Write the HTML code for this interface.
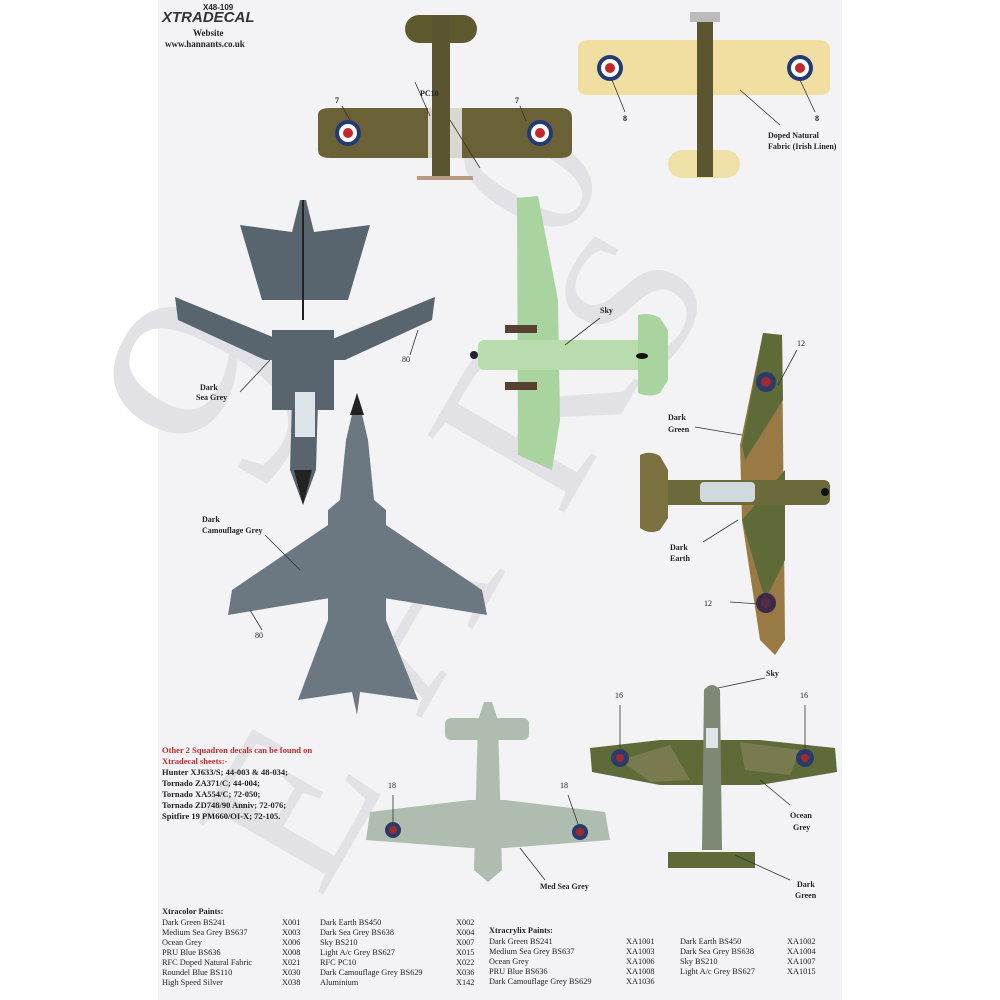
<!DOCTYPE html>
<html><head><meta charset="utf-8"><style>
html,body{margin:0;padding:0;background:#fff;}
svg{display:block}
text{font-family:"Liberation Serif",serif;font-weight:bold;fill:#222;}
</style></head><body>
<svg width="1000" height="1000" viewBox="0 0 1000 1000" xmlns="http://www.w3.org/2000/svg">
<rect x="0" y="0" width="1000" height="1000" fill="#fff"/>
<rect x="158" y="0" width="684" height="1000" fill="#f3f3f6"/>

<!-- watermark -->
<g>
<text x="560" y="250" font-size="200" transform="rotate(-60 560 250)" style="fill:#e2e2e6;font-weight:normal">0</text>
<text x="260" y="500" font-size="300" transform="rotate(-60 260 500)" style="fill:#e2e2e6;font-weight:normal">9</text>
<text x="560" y="520" font-size="240" transform="rotate(-60 560 520)" style="fill:#e2e2e6;font-weight:normal">R</text>
<text x="420" y="720" font-size="240" transform="rotate(-60 420 720)" style="fill:#e2e2e6;font-weight:normal">A</text>
<text x="320" y="900" font-size="220" transform="rotate(-60 320 900)" style="fill:#e2e2e6;font-weight:normal">E</text>
<text x="660" y="380" font-size="200" transform="rotate(-60 660 380)" style="fill:#e2e2e6;font-weight:normal">S</text>
</g>

<!-- logo -->
<text x="203" y="10" font-size="8" style="font-family:'Liberation Sans',sans-serif">X48-109</text>
<text x="162" y="22" font-size="15" style="font-family:'Liberation Sans',sans-serif;font-style:italic;fill:#333">XTRADECAL</text>
<text x="193" y="36" font-size="9">Website</text>
<text x="165" y="47" font-size="9">www.hannants.co.uk</text>

<!-- top biplane PC10 -->
<g>
<rect x="405" y="15" width="72" height="28" rx="14" fill="#5f5a2e"/>
<rect x="432" y="15" width="18" height="165" fill="#5a5530"/>
<path d="M318,115 Q318,108 330,108 L560,108 Q572,108 572,118 L572,150 Q572,158 560,158 L330,158 Q318,158 318,150Z" fill="#6a6236"/>
<rect x="428" y="108" width="34" height="50" fill="#d8d8d0"/>
<rect x="432" y="95" width="18" height="85" fill="#5a5530"/>
<rect x="417" y="176" width="56" height="4" fill="#b89a80"/>
<circle cx="348" cy="133" r="13" fill="#243a78"/><circle cx="348" cy="133" r="9" fill="#fff"/><circle cx="348" cy="133" r="5" fill="#c0282c"/>
<circle cx="540" cy="133" r="13" fill="#243a78"/><circle cx="540" cy="133" r="9" fill="#fff"/><circle cx="540" cy="133" r="5" fill="#c0282c"/>
<path d="M350,120 L342,106 M526,121 L520,106 M430,116 L415,82 M450,120 L480,168" stroke="#333" stroke-width="0.8"/>
<text x="335" y="103" font-size="8">7</text><text x="515" y="103" font-size="8">7</text>
<text x="420" y="96" font-size="8">PC10</text>
</g>

<!-- top-right biplane linen -->
<g>
<rect x="668" y="150" width="72" height="28" rx="14" fill="#efe0a8"/>
<path d="M578,48 Q578,40 590,40 L818,40 Q830,40 830,50 L830,88 Q830,95 818,95 L590,95 Q578,95 578,88Z" fill="#f0dfa0"/>
<rect x="697" y="12" width="16" height="165" fill="#5b5530"/>
<rect x="690" y="12" width="30" height="10" fill="#bbb"/>
<circle cx="610" cy="68" r="13" fill="#243a78"/><circle cx="610" cy="68" r="9" fill="#fff"/><circle cx="610" cy="68" r="5" fill="#c0282c"/>
<circle cx="800" cy="68" r="13" fill="#243a78"/><circle cx="800" cy="68" r="9" fill="#fff"/><circle cx="800" cy="68" r="5" fill="#c0282c"/>
<path d="M612,80 L625,112 M800,80 L815,112 M740,90 L780,125" stroke="#333" stroke-width="0.8"/>
<text x="623" y="121" font-size="8">8</text><text x="815" y="121" font-size="8">8</text>
<text x="768" y="138" font-size="8">Doped Natural</text>
<text x="768" y="149" font-size="8">Fabric (Irish Linen)</text>
</g>

<!-- Jaguar top-left -->
<g fill="#58646e">
<polygon points="240,225 292,232 300,200 306,200 314,232 370,225 348,300 262,300"/>
<polygon points="175,297 280,340 330,340 435,297 432,320 345,360 265,360 178,320"/>
<rect x="272" y="330" width="62" height="80"/>
<path d="M292,400 L318,400 L316,470 L303,505 L290,470Z"/>
<rect x="295" y="392" width="20" height="45" fill="#dde4ea"/>
<path d="M294,470 L303,505 L312,470Z" fill="#222"/>
<line x1="303" y1="200" x2="303" y2="320" stroke="#222" stroke-width="2"/>
</g>
<path d="M270,360 L240,392 M418,330 L410,355" stroke="#333" stroke-width="0.8"/>
<text x="402" y="362" font-size="8" style="font-weight:normal">80</text>
<text x="200" y="390" font-size="8">Dark</text><text x="196" y="400" font-size="8">Sea Grey</text>

<!-- Tornado -->
<g fill="#6b7882">
<path d="M357,393 L368,440 L374,500 L386,510 L386,620 L418,700 L360,692 L357,715 L352,692 L298,700 L328,620 L328,510 L340,500 L346,440Z"/>
<polygon points="328,525 232,590 228,615 330,598"/>
<polygon points="386,525 482,590 487,615 384,598"/>
<path d="M350,415 L357,393 L364,415Z" fill="#222"/>
</g>
<path d="M265,535 L300,570 M250,610 L262,630" stroke="#333" stroke-width="0.8"/>
<text x="202" y="522" font-size="8">Dark</text><text x="202" y="533" font-size="8">Camouflage Grey</text>
<text x="255" y="638" font-size="8" style="font-weight:normal">80</text>

<!-- Sky Anson -->
<g>
<path d="M517,198 L538,196 L558,300 L560,420 L552,470 L518,455Z" fill="#a9d39f"/>
<rect x="478" y="340" width="190" height="30" rx="6" fill="#b9dcae"/>
<path d="M638,315 Q650,312 660,318 L668,330 L668,380 L660,393 Q650,398 638,393Z" fill="#a9d39f"/>
<rect x="505" y="325" width="32" height="8" fill="#5a4030"/>
<rect x="505" y="382" width="32" height="8" fill="#5a4030"/>
<circle cx="474" cy="355" r="4" fill="#223"/>
<ellipse cx="642" cy="356" rx="6" ry="3" fill="#111"/>
</g>
<line x1="565" y1="345" x2="600" y2="318" stroke="#333" stroke-width="0.8"/>
<text x="600" y="313" font-size="8">Sky</text>

<!-- Camo Anson -->
<g>
<path d="M763,333 L782,335 L785,640 L775,655 L760,640 L742,520 L740,445Z" fill="#9a7a44"/>
<path d="M763,333 L782,335 L783,400 L745,460 L742,445Z" fill="#5e6a38"/>
<path d="M742,520 L785,470 L785,560 L765,600Z" fill="#5e6a38"/>
<rect x="645" y="480" width="185" height="25" rx="6" fill="#6a6a3a"/>
<path d="M640,455 Q650,450 660,456 L668,470 L668,518 L660,530 Q650,535 640,528Z" fill="#7a7040"/>
<rect x="700" y="482" width="55" height="20" rx="4" fill="#cfd9de"/>
<circle cx="766" cy="382" r="10" fill="#2a3b6a"/><circle cx="766" cy="382" r="5" fill="#a02a30"/>
<circle cx="766" cy="603" r="10" fill="#3a2a4a"/><circle cx="766" cy="603" r="5" fill="#5a2a40"/>
<circle cx="825" cy="492" r="4" fill="#111"/>
</g>
<path d="M778,385 L797,350 M695,427 L742,435 M703,542 L738,520 M730,602 L760,604" stroke="#333" stroke-width="0.8"/>
<text x="797" y="346" font-size="8" style="font-weight:normal">12</text>
<text x="668" y="420" font-size="8">Dark</text><text x="668" y="432" font-size="8">Green</text>
<text x="670" y="550" font-size="8">Dark</text><text x="670" y="561" font-size="8">Earth</text>
<text x="704" y="606" font-size="8" style="font-weight:normal">12</text>

<!-- light grey aircraft -->
<g fill="#aebdb0">
<rect x="445" y="718" width="84" height="22" rx="6"/>
<path d="M478,720 L484,702 L492,702 L498,720 L502,870 L488,882 L474,870Z"/>
<path d="M370,812 L470,800 L505,800 L605,812 L610,840 L505,848 L470,848 L366,840Z"/>
<circle cx="393" cy="830" r="8" fill="#2a3b6a"/><circle cx="393" cy="830" r="4" fill="#a02a30"/>
<circle cx="580" cy="832" r="8" fill="#2a3b6a"/><circle cx="580" cy="832" r="4" fill="#a02a30"/>
</g>
<path d="M393,822 L393,795 M578,824 L568,795 M520,848 L545,880" stroke="#333" stroke-width="0.8"/>
<text x="388" y="788" font-size="8" style="font-weight:normal">18</text>
<text x="560" y="788" font-size="8" style="font-weight:normal">18</text>
<text x="540" y="889" font-size="8">Med Sea Grey</text>

<!-- Spitfire -->
<g>
<path d="M590,748 L660,740 L760,740 L835,748 L837,772 L760,785 L660,785 L592,772Z" fill="#5e6a38"/>
<path d="M620,760 L670,745 L690,780 L650,782Z M740,742 L800,750 L790,775 L745,770Z" fill="#7a7a50"/>
<path d="M704,690 Q712,680 720,690 L722,850 L702,850Z" fill="#7d8875"/>
<path d="M668,852 L755,852 L755,868 L668,868Z" fill="#5e6a38"/>
<circle cx="620" cy="758" r="9" fill="#2a3b6a"/><circle cx="620" cy="758" r="4" fill="#a02a30"/>
<circle cx="805" cy="758" r="9" fill="#2a3b6a"/><circle cx="805" cy="758" r="4" fill="#a02a30"/>
<rect x="706" y="728" width="12" height="20" fill="#dde3e6"/>
</g>
<path d="M620,748 L620,705 M805,748 L805,705 M718,688 L765,678 M760,780 L790,805 M735,855 L790,880" stroke="#333" stroke-width="0.8"/>
<text x="615" y="698" font-size="8" style="font-weight:normal">16</text>
<text x="800" y="698" font-size="8" style="font-weight:normal">16</text>
<text x="766" y="676" font-size="8">Sky</text>
<text x="790" y="818" font-size="8">Ocean</text><text x="793" y="830" font-size="8">Grey</text>
<text x="797" y="887" font-size="8">Dark</text><text x="795" y="898" font-size="8">Green</text>

<!-- red text block -->
<g font-size="8.5">
<text x="162" y="753" style="fill:#c0282c">Other 2 Squadron decals can be found on</text>
<text x="162" y="764" style="fill:#c0282c">Xtradecal sheets:-</text>
<text x="162" y="775">Hunter XJ633/S; 44-003 &amp; 48-034;</text>
<text x="162" y="786">Tornado ZA371/C; 44-004;</text>
<text x="162" y="797">Tornado XA554/C; 72-050;</text>
<text x="162" y="808">Tornado ZD748/90 Anniv; 72-076;</text>
<text x="162" y="819">Spitfire 19 PM660/OI-X; 72-105.</text>
</g>

<!-- paints tables -->
<g font-size="8.3">
<text x="162" y="914">Xtracolor Paints:</text>
<text x="162" y="925" style="font-weight:normal">Dark Green BS241</text>
<text x="162" y="935" style="font-weight:normal">Medium Sea Grey BS637</text>
<text x="162" y="945" style="font-weight:normal">Ocean Grey</text>
<text x="162" y="955" style="font-weight:normal">PRU Blue BS636</text>
<text x="162" y="965" style="font-weight:normal">RFC Doped Natural Fabric</text>
<text x="162" y="975" style="font-weight:normal">Roundel Blue BS110</text>
<text x="162" y="985" style="font-weight:normal">High Speed Silver</text>
<text x="282" y="925" style="font-weight:normal">X001</text>
<text x="282" y="935" style="font-weight:normal">X003</text>
<text x="282" y="945" style="font-weight:normal">X006</text>
<text x="282" y="955" style="font-weight:normal">X008</text>
<text x="282" y="965" style="font-weight:normal">X021</text>
<text x="282" y="975" style="font-weight:normal">X030</text>
<text x="282" y="985" style="font-weight:normal">X038</text>
<text x="320" y="925" style="font-weight:normal">Dark Earth BS450</text>
<text x="320" y="935" style="font-weight:normal">Dark Sea Grey BS638</text>
<text x="320" y="945" style="font-weight:normal">Sky BS210</text>
<text x="320" y="955" style="font-weight:normal">Light A/c Grey BS627</text>
<text x="320" y="965" style="font-weight:normal">RFC PC10</text>
<text x="320" y="975" style="font-weight:normal">Dark Camouflage Grey BS629</text>
<text x="320" y="985" style="font-weight:normal">Aluminium</text>
<text x="456" y="925" style="font-weight:normal">X002</text>
<text x="456" y="935" style="font-weight:normal">X004</text>
<text x="456" y="945" style="font-weight:normal">X007</text>
<text x="456" y="955" style="font-weight:normal">X015</text>
<text x="456" y="965" style="font-weight:normal">X022</text>
<text x="456" y="975" style="font-weight:normal">X036</text>
<text x="456" y="985" style="font-weight:normal">X142</text>

<text x="489" y="933">Xtracrylix Paints:</text>
<text x="489" y="944" style="font-weight:normal">Dark Green BS241</text>
<text x="489" y="954" style="font-weight:normal">Medium Sea Grey BS637</text>
<text x="489" y="964" style="font-weight:normal">Ocean Grey</text>
<text x="489" y="974" style="font-weight:normal">PRU Blue BS636</text>
<text x="489" y="984" style="font-weight:normal">Dark Camouflage Grey BS629</text>
<text x="626" y="944" style="font-weight:normal">XA1001</text>
<text x="626" y="954" style="font-weight:normal">XA1003</text>
<text x="626" y="964" style="font-weight:normal">XA1006</text>
<text x="626" y="974" style="font-weight:normal">XA1008</text>
<text x="626" y="984" style="font-weight:normal">XA1036</text>
<text x="680" y="944" style="font-weight:normal">Dark Earth BS450</text>
<text x="680" y="954" style="font-weight:normal">Dark Sea Grey BS638</text>
<text x="680" y="964" style="font-weight:normal">Sky BS210</text>
<text x="680" y="974" style="font-weight:normal">Light A/c Grey BS627</text>
<text x="787" y="944" style="font-weight:normal">XA1002</text>
<text x="787" y="954" style="font-weight:normal">XA1004</text>
<text x="787" y="964" style="font-weight:normal">XA1007</text>
<text x="787" y="974" style="font-weight:normal">XA1015</text>
</g>
</svg>
</body></html>
